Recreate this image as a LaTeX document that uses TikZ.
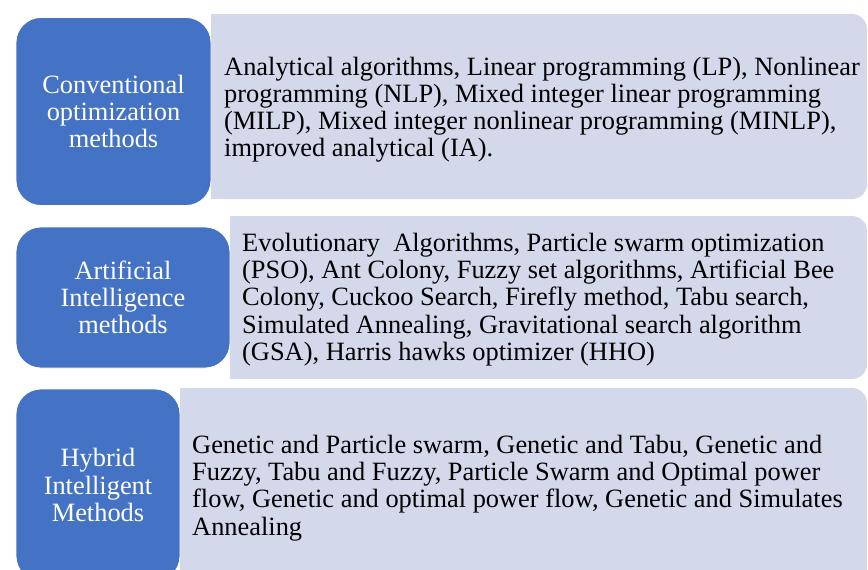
\documentclass[tikz,border=0pt]{standalone}
\usepackage{fontspec}
\setmainfont{Liberation Serif}
\newfontfamily\tnr{Liberation Serif}
\definecolor{bluebox}{HTML}{4472C4}
\definecolor{greybox}{HTML}{D4D8EB}
\tikzset{
  cat/.style={fill=bluebox, draw=white, line width=0.8pt, rounded corners=25pt, text=white,
    align=center, inner sep=0pt, font=\tnr\fontsize{26.4}{27.2}\selectfont},
  desc/.style={anchor=west, align=left, inner sep=0pt, text=black, font=\tnr\fontsize{26.4}{27.2}\selectfont},
}
\begin{document}
\begin{tikzpicture}[x=1pt,y=-1pt]
\useasboundingbox (0,0) rectangle (868,570);
\clip (0,0) rectangle (868,570);
% grey panels
\fill[greybox, rounded corners=15pt] (211,14) rectangle (867,199);
\fill[greybox] (211,14) rectangle (260,199);
\fill[greybox, rounded corners=15pt] (230,216) rectangle (867,379);
\fill[greybox] (230,216) rectangle (280,379);
\fill[greybox, rounded corners=15pt] (180,388) rectangle (867,600);
\fill[greybox] (180,388) rectangle (230,600);
% category boxes
\node[cat, minimum width=195pt, minimum height=188pt] (c1) at (113.5,111.5) {Conventional\\optimization\\methods};
\node[cat, minimum width=214pt, minimum height=141pt] (c2) at (123,297.5) {Artificial\\Intelligence\\methods};
\node[cat, minimum width=164pt, minimum height=192pt] (c3) at (98,485) {Hybrid\\Intelligent\\Methods};
% descriptions
\node[desc] (d1) at (224,109.5) {Analytical algorithms, Linear programming (LP), Nonlinear\\programming (NLP), Mixed integer linear programming\\(MILP), Mixed integer nonlinear programming (MINLP),\\improved analytical (IA).};
\node[desc] (d2) at (242,299.5) {Evolutionary\ \ Algorithms, Particle swarm optimization\\(PSO), Ant Colony, Fuzzy set algorithms, Artificial Bee\\Colony, Cuckoo Search, Firefly method, Tabu search,\\Simulated Annealing, Gravitational search algorithm\\(GSA), Harris hawks optimizer (HHO)};
\node[desc] (d3) at (192,488) {Genetic and Particle swarm, Genetic and Tabu, Genetic and\\Fuzzy, Tabu and Fuzzy, Particle Swarm and Optimal power\\flow, Genetic and optimal power flow, Genetic and Simulates\\Annealing};
\end{tikzpicture}
\end{document}
